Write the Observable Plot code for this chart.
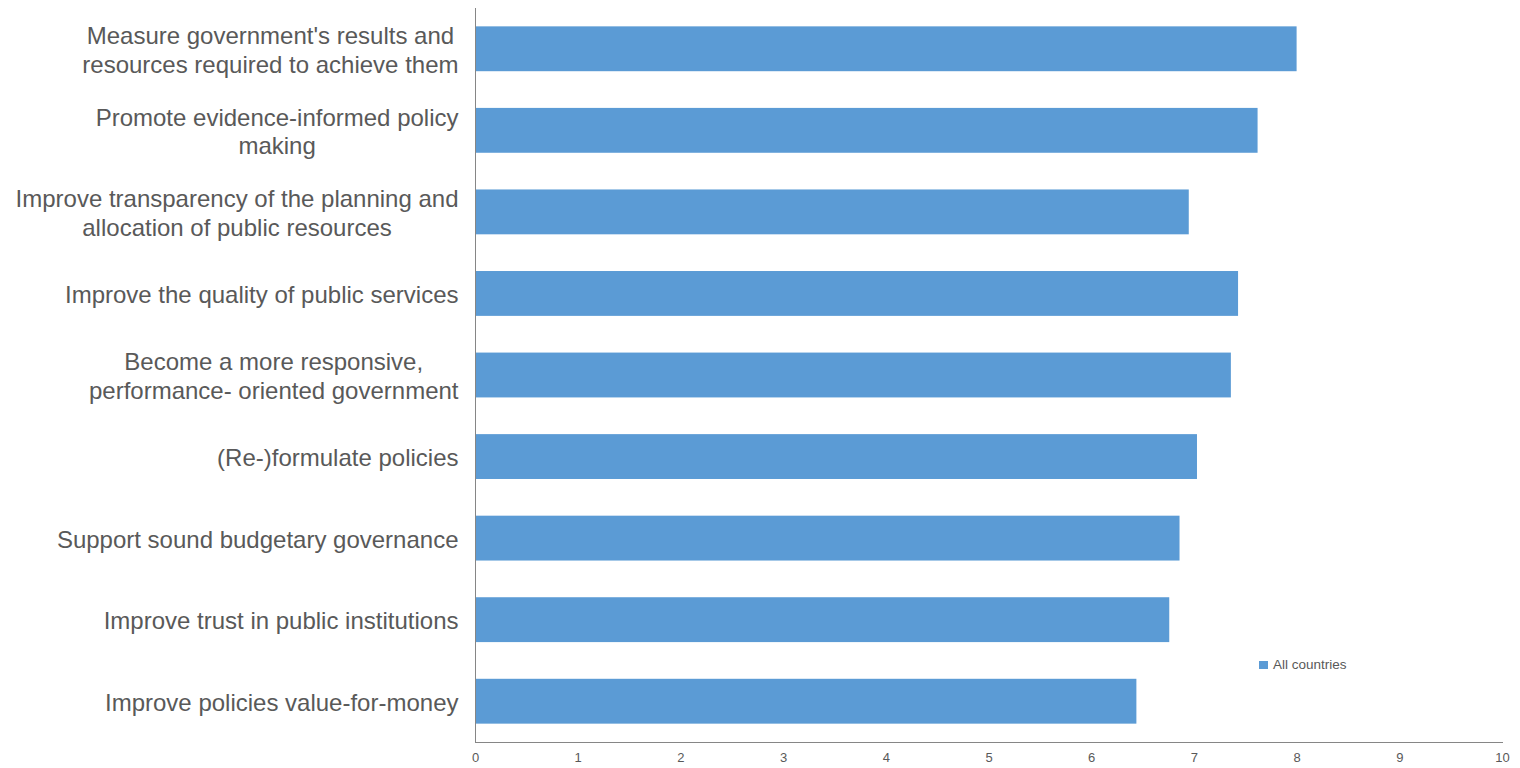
<!DOCTYPE html>
<html>
<head>
<meta charset="utf-8">
<script src="https://cdn.jsdelivr.net/npm/d3@7"></script>
<script src="https://cdn.jsdelivr.net/npm/@observablehq/plot@0.6"></script>
<style>
  html, body { margin: 0; padding: 0; background: #fff; }
  #wrap { position: relative; width: 1520px; height: 768px; font-family: "Liberation Sans", Arial, sans-serif; }
  #legend { position: absolute; left: 1259px; top: 657px; font-size: 13.5px; color: #595959; display: flex; align-items: center; }
  #legend .sw { width: 9px; height: 8px; background: #5B9BD5; margin-right: 5px; }
</style>
</head>
<body>
<div id="wrap"><div id="legend"><div class="sw"></div><span>All countries</span></div></div>
<script>
const categories = [
  "Measure government's results and\nresources required to achieve them",
  "Promote evidence-informed policy\nmaking",
  "Improve transparency of the planning and\nallocation of public resources",
  "Improve the quality of public services",
  "Become a more responsive,\nperformance- oriented government",
  "(Re-)formulate policies",
  "Support sound budgetary governance",
  "Improve trust in public institutions",
  "Improve policies value-for-money"
];
const values = [8.00, 7.62, 6.95, 7.43, 7.36, 7.03, 6.86, 6.76, 6.44];
const xTicks = [0, 1, 2, 3, 4, 5, 6, 7, 8, 9, 10];
const seriesName = "All countries";

const data = categories.map((c, i) => ({category: c, value: values[i], series: seriesName}));

const chart = Plot.plot({
  width: 1520,
  height: 768,
  marginTop: 8,
  marginBottom: 26,
  marginLeft: 475,
  marginRight: 18,
  style: {fontFamily: '"Liberation Sans", Arial, sans-serif', background: "#fff"},
  x: {domain: [0, 10], ticks: xTicks},
  y: {domain: categories, paddingInner: 0.45, paddingOuter: 0.225, round: false},
  marks: [
    Plot.barX(data, {x: "value", y: "category", fill: "#5B9BD5"}),
    Plot.ruleX([0], {stroke: "#868686", strokeWidth: 1}),
    Plot.frame({anchor: "bottom", stroke: "#868686", strokeWidth: 1}),
    Plot.axisX({ticks: xTicks, tickSize: 0, tickPadding: 10, fontSize: 13, color: "#595959", label: null}),
    Plot.axisY({tickSize: 0, tickPadding: 17, fontSize: 24, lineHeight: 1.2, color: "#595959", label: null})
  ]
});
document.getElementById("wrap").prepend(chart);
chart.style.display = "block";

// center multi-line category labels relative to each other (Excel-style)
chart.querySelectorAll("text").forEach(t => {
  const spans = t.querySelectorAll("tspan");
  if (spans.length > 1) {
    let maxW = 0;
    spans.forEach(s => { maxW = Math.max(maxW, s.getComputedTextLength()); });
    t.setAttribute("text-anchor", "middle");
    spans.forEach(s => {
      const sx = parseFloat(s.getAttribute("x") || 0);
      s.setAttribute("x", sx - maxW / 2);
    });
  }
});
</script>
</body>
</html>
